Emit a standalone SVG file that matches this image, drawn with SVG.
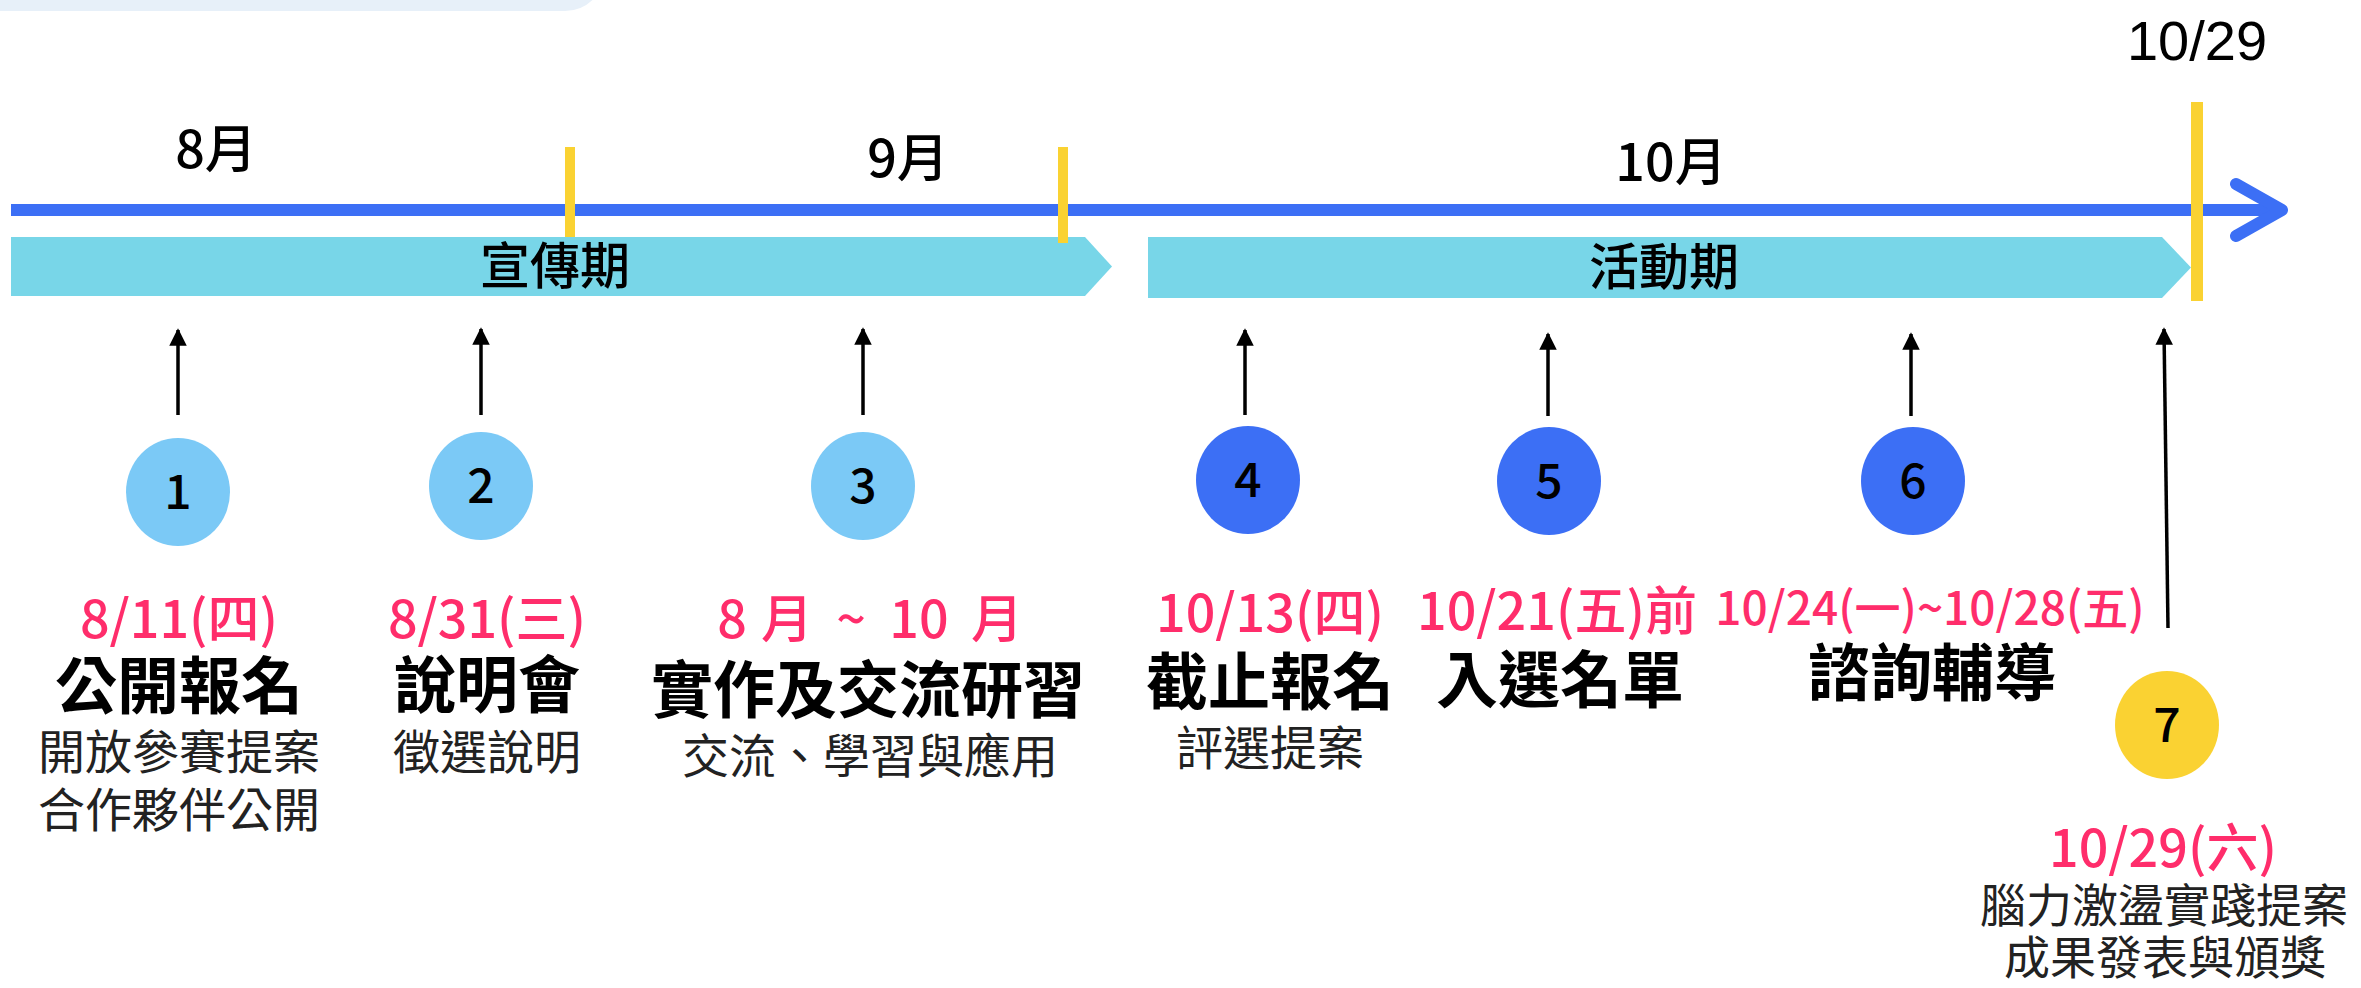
<svg xmlns="http://www.w3.org/2000/svg" width="2361" height="988" viewBox="0 0 2361 988">
<defs>
<style>
text{font-family:"Noto Sans CJK TC","Noto Sans CJK SC",sans-serif;text-anchor:middle;}
.month{font-size:52px;font-weight:500;fill:#000;}
.phase{font-size:50px;font-weight:500;fill:#000;}
.num{font-size:48px;font-weight:500;fill:#000;}
.date{font-size:52px;font-weight:500;fill:#FF2D6B;}
.title{font-size:62px;font-weight:bold;fill:#000;}
.sub{font-size:47px;fill:#222;}
.tick{stroke:#FAD232;stroke-width:10;}
.ptr{stroke:#000;stroke-width:3.5;fill:none;marker-end:url(#ah);}
.c-light{fill:#7BC9F6;}
.c-dark{fill:#3C6FF5;}
.c-yellow{fill:#FAD232;}
.bar{fill:#78D6E8;}
</style>
<marker id="ah" viewBox="0 0 10 10" refX="9" refY="5" markerWidth="5" markerHeight="5" orient="auto" markerUnits="strokeWidth">
<path d="M0,0 L10,5 L0,10 z" fill="#000"/>
</marker>
</defs>
<rect x="-40" y="-80" width="645" height="91" rx="40" fill="#E7F0F9"/>

<g id="timeline">
<line x1="11" y1="210" x2="2278" y2="210" stroke="#3C6FF5" stroke-width="12"/>
<polyline points="2236,184 2282,210 2236,236" fill="none" stroke="#3C6FF5" stroke-width="12" stroke-linecap="round" stroke-linejoin="round"/>
</g>

<g id="months">
<text class="month" x="216" y="168">8月</text>
<text class="month" x="908" y="177">9月</text>
<text class="month" x="1671" y="181">10月</text>
<text class="month" x="2197" y="60" style="font-size:56px;font-family:'Liberation Sans','Noto Sans CJK TC',sans-serif">10/29</text>
</g>

<g id="phase-promo">
<polygon class="bar" points="11,237 1085,237 1112,266.5 1085,296 11,296"/>
<text class="phase" x="555" y="284">宣傳期</text>
</g>
<g id="phase-activity">
<polygon class="bar" points="1148,237 2162,237 2191,267.5 2162,298 1148,298"/>
<text class="phase" x="1664" y="285">活動期</text>
</g>

<g id="ticks">
<line class="tick" x1="570" y1="147" x2="570" y2="237"/>
<line class="tick" x1="1063" y1="147" x2="1063" y2="243"/>
<line class="tick" x1="2197" y1="102" x2="2197" y2="301" style="stroke-width:12"/>
</g>

<g id="connectors">
<line class="ptr" x1="178" y1="415" x2="178" y2="330"/>
<line class="ptr" x1="481" y1="415" x2="481" y2="329"/>
<line class="ptr" x1="863" y1="415" x2="863" y2="329"/>
<line class="ptr" x1="1245" y1="415" x2="1245" y2="330"/>
<line class="ptr" x1="1548" y1="416" x2="1548" y2="334"/>
<line class="ptr" x1="1911" y1="416" x2="1911" y2="334"/>
<line class="ptr" x1="2168" y1="628" x2="2164" y2="329"/>
</g>

<g id="node1">
<ellipse class="c-light" cx="178" cy="492" rx="52" ry="54"/>
<text class="num" x="178" y="509">1</text>
<text class="date" x="179" y="638">8/11(四)</text>
<text class="title" x="179" y="709">公開報名</text>
<text class="sub" x="179" y="769">開放參賽提案</text>
<text class="sub" x="179" y="827">合作夥伴公開</text>
</g>
<g id="node2">
<ellipse class="c-light" cx="481" cy="486" rx="52" ry="54"/>
<text class="num" x="481" y="503">2</text>
<text class="date" x="487" y="638">8/31(三)</text>
<text class="title" x="487" y="708">說明會</text>
<text class="sub" x="487" y="769">徵選說明</text>
</g>
<g id="node3">
<ellipse class="c-light" cx="863" cy="486" rx="52" ry="54"/>
<text class="num" x="863" y="503">3</text>
<text class="date" y="638"><tspan x="732">8</tspan><tspan x="787">月</tspan><tspan x="851">~</tspan><tspan x="919">10</tspan><tspan x="997">月</tspan></text>
<text class="title" x="868" y="713">實作及交流研習</text>
<text class="sub" x="870" y="773">交流、學習與應用</text>
</g>
<g id="node4">
<ellipse class="c-dark" cx="1248" cy="480" rx="52" ry="54"/>
<text class="num" x="1248" y="497">4</text>
<text class="date" x="1270" y="632">10/13(四)</text>
<text class="title" x="1270" y="705">截止報名</text>
<text class="sub" x="1270" y="765">評選提案</text>
</g>
<g id="node5">
<ellipse class="c-dark" cx="1549" cy="481" rx="52" ry="54"/>
<text class="num" x="1549" y="498">5</text>
<text class="date" x="1557" y="630">10/21(五)前</text>
<text class="title" x="1560" y="703">入選名單</text>
</g>
<g id="node6">
<ellipse class="c-dark" cx="1913" cy="481" rx="52" ry="54"/>
<text class="num" x="1913" y="498">6</text>
<text class="date" x="1930" y="625" style="font-size:46px">10/24(一)~10/28(五)</text>
<text class="title" x="1932" y="696">諮詢輔導</text>
</g>
<g id="node7">
<ellipse class="c-yellow" cx="2167" cy="725" rx="52" ry="54"/>
<text class="num" x="2167" y="742">7</text>
<text class="date" x="2163" y="867">10/29(六)</text>
<text class="sub" x="2164" y="922" style="font-size:46px">腦力激盪實踐提案</text>
<text class="sub" x="2165" y="974" style="font-size:46px">成果發表與頒獎</text>
</g>
</svg>
